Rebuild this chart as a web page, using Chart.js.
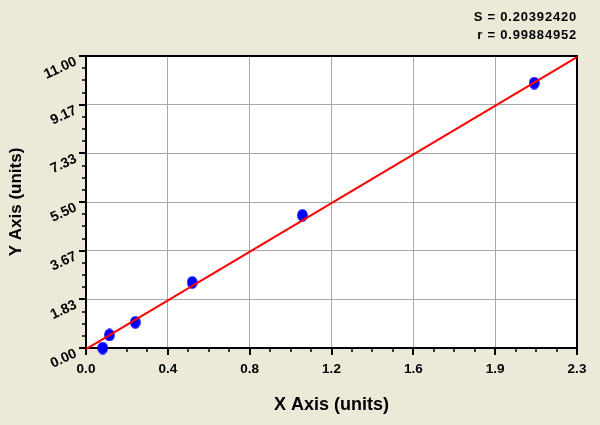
<!DOCTYPE html>
<html>
<head>
<meta charset="utf-8">
<script src="https://cdn.jsdelivr.net/npm/chart.js@4/dist/chart.umd.min.js"></script>
<style>
  html, body { margin: 0; padding: 0; background: #ece9d8; }
  #wrap { width: 600px; height: 425px; }
</style>
</head>
<body>
<div id="wrap"><canvas id="stdCurve" width="600" height="425"></canvas></div>
<script>
const pointX = [0.079, 0.111, 0.234, 0.504, 1.027, 2.127];
const pointY = [0.0, 0.49, 0.97, 2.47, 5.0, 9.98];
// fitted line ends
const fitX = [0, 2.33];
const fitY = [-0.04, 10.96];
// axis ticks
const xMax = 2.33;
const yMax = 11;
const xTickLabels = ["0.0", "0.4", "0.8", "1.2", "1.6", "1.9", "2.3"];
const yTickLabels = ["0.00", "1.83", "3.67", "5.50", "7.33", "9.17", "11.00"];
const statLines = ["S = 0.20392420", "r = 0.99884952"];

const FONT = "'Liberation Sans', Arial, sans-serif";

// blue dot, slightly taller than wide
const dot = document.createElement("canvas");
dot.width = 11;
dot.height = 13;
(() => {
  const c = dot.getContext("2d");
  c.fillStyle = "#0000ff";
  c.beginPath();
  c.ellipse(5.5, 6.5, 5.3, 6.3, 0, 0, Math.PI * 2);
  c.fill();
})();

const frame = {
  id: "frame",
  beforeDraw: (chart) => {
    const ctx = chart.ctx;
    const a = chart.chartArea;
    ctx.save();
    ctx.fillStyle = "#ece9d8";
    ctx.fillRect(0, 0, chart.width, chart.height);
    ctx.fillStyle = "#ffffff";
    ctx.fillRect(a.left, a.top, a.right - a.left, a.bottom - a.top);
    ctx.restore();
  },
  beforeDatasetsDraw: (chart) => {
    const ctx = chart.ctx;
    const a = chart.chartArea;
    const xs = chart.scales.x;
    const ys = chart.scales.y;
    ctx.save();
    ctx.strokeStyle = "#000";
    ctx.lineWidth = 2;
    ctx.strokeRect(a.left, a.top, a.right - a.left, a.bottom - a.top);
    // tick marks, 3 minor between majors
    for (let i = 0; i < 6 * 4 + 1; i++) {
      const major = i % 4 === 0;
      const len = major ? 7 : 4;
      ctx.lineWidth = major ? 2 : 1.5;
      const px = Math.round(xs.getPixelForValue((i * xMax) / 24));
      ctx.beginPath();
      ctx.moveTo(px, a.bottom);
      ctx.lineTo(px, a.bottom + len);
      ctx.stroke();
      const py = Math.round(ys.getPixelForValue((i * yMax) / 24));
      ctx.beginPath();
      ctx.moveTo(a.left, py);
      ctx.lineTo(a.left - len, py);
      ctx.stroke();
    }
    ctx.restore();
  },
  afterDraw: (chart) => {
    const ctx = chart.ctx;
    ctx.save();
    ctx.fillStyle = "#000";
    ctx.font = "bold 13px " + FONT;
    ctx.letterSpacing = "0.8px";
    ctx.textAlign = "right";
    ctx.textBaseline = "middle";
    ctx.fillText(statLines[0], 577, 17);
    ctx.fillText(statLines[1], 577, 35);
    ctx.restore();
  },
};

new Chart(document.getElementById("stdCurve"), {
  type: "scatter",
  data: {
    datasets: [
      {
        type: "line",
        data: fitX.map((x, i) => ({ x: x, y: fitY[i] })),
        borderColor: "#ff0000",
        borderWidth: 2,
        pointRadius: 0,
        fill: false,
        clip: false,
      },
      {
        data: pointX.map((x, i) => ({ x: x, y: pointY[i] })),
        pointStyle: dot,
        backgroundColor: "#0000ff",
        clip: false,
      },
    ],
  },
  options: {
    responsive: false,
    animation: false,
    events: [],
    layout: { padding: { top: 56, right: 23, left: 0, bottom: 0 } },
    plugins: { legend: { display: false }, tooltip: { enabled: false } },
    scales: {
      x: {
        type: "linear",
        min: 0,
        max: xMax,
        afterFit: (s) => { s.height = 77; },
        afterBuildTicks: (s) => {
          s.ticks = xTickLabels.map((l, i) => ({ value: (i * xMax) / 6 }));
        },
        grid: { color: "#a8a8a8", lineWidth: 1, drawTicks: false },
        border: { display: false },
        ticks: {
          padding: 13,
          maxRotation: 0,
          color: "#000",
          font: { family: FONT, size: 13.5, weight: "bold" },
          callback: (v, i) => xTickLabels[i],
        },
        title: {
          display: true,
          text: "X Axis (units)",
          color: "#000",
          font: { family: FONT, size: 18, weight: "bold" },
          padding: { top: 0, bottom: 9 },
        },
      },
      y: {
        type: "linear",
        min: 0,
        max: yMax,
        afterFit: (s) => { s.width = 86; },
        afterBuildTicks: (s) => {
          s.ticks = yTickLabels.map((l, i) => ({ value: (i * yMax) / 6 }));
        },
        grid: { color: "#a8a8a8", lineWidth: 1, drawTicks: false },
        border: { display: false },
        ticks: {
          padding: 10,
          minRotation: 25,
          maxRotation: 25,
          labelOffset: 5,
          color: "#000",
          font: { family: FONT, size: 14, weight: "bold" },
          callback: (v, i) => yTickLabels[i],
        },
        title: {
          display: true,
          text: "Y Axis (units)",
          color: "#000",
          font: { family: FONT, size: 17, weight: "bold" },
          padding: { top: 6, bottom: 0 },
        },
      },
    },
  },
  plugins: [frame],
});
</script>
</body>
</html>
